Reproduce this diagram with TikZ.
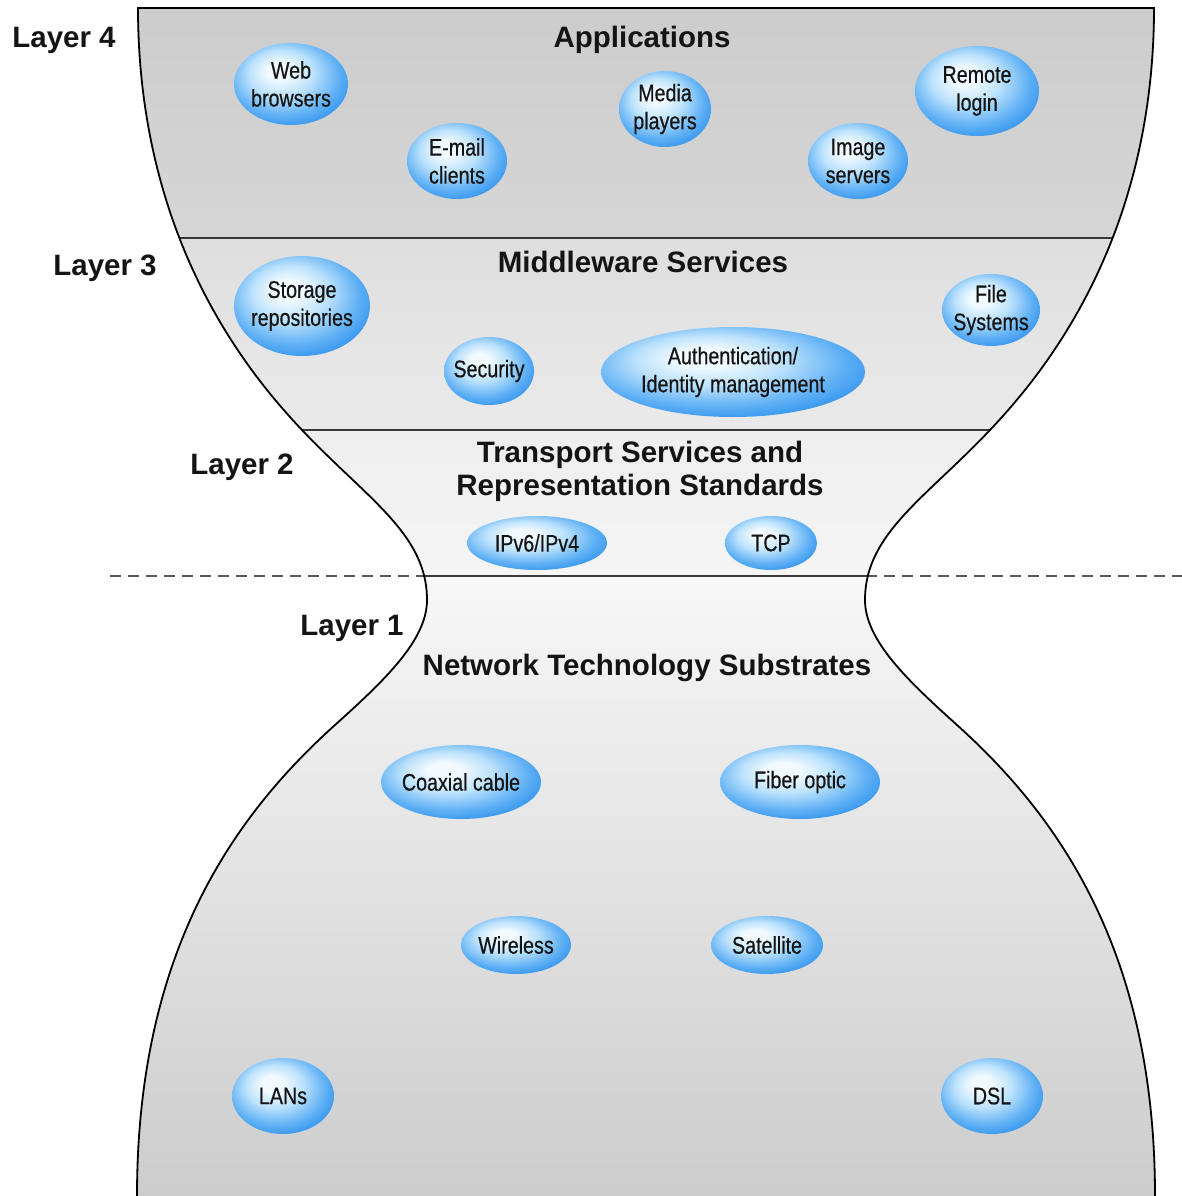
\documentclass[tikz,border=0pt]{standalone}
\usepackage{fontspec}
\setmainfont{Liberation Sans}
\newfontfamily\bubfont[FakeStretch=0.82,FakeBold=0.5]{Liberation Sans}
\usetikzlibrary{shapes.geometric}
\definecolor{bubHi}{RGB}{242,250,255}
\definecolor{bubA}{RGB}{188,226,252}
\definecolor{bubB}{RGB}{95,176,245}
\definecolor{bubC}{RGB}{36,138,234}
\definecolor{bubD}{RGB}{18,112,214}
\definecolor{inkc}{RGB}{20,20,20}
\pgfdeclareradialshading{bubble}{\pgfpoint{-6bp}{9bp}}{color(0bp)=(bubHi); color(5bp)=(bubHi); color(14bp)=(bubA); color(24bp)=(bubB); color(33bp)=(bubC); color(50bp)=(bubD)}
\newcommand\bub[6]{%
  \path[shading=bubble] (#2,#3) ellipse [x radius=#4, y radius=#5];
  \node[bubtext] (#1) at (#2,#3) {#6};}
\begin{document}
\begin{tikzpicture}[x=1pt,y=-1pt,
  bubtext/.style={font=\bubfont\fontsize{24}{28}\selectfont, align=center, text=inkc, inner sep=0pt},
  title/.style={font=\bfseries\fontsize{29.5}{33}\selectfont, align=center, text=inkc, inner sep=0pt},
  layerlbl/.style={font=\bfseries\fontsize{29.5}{33}\selectfont, text=inkc, inner sep=0pt},
  sepline/.style={draw=black!78, line width=2pt},
  dashline/.style={draw=black!65, line width=2.4pt, dash pattern=on 11pt off 7pt},
  outline/.style={draw=black, line width=1.8pt}]
\useasboundingbox (0,0) rectangle (1182,1196);
% dashed divider outside
\draw[dashline] (110,576) -- (1182,576);
% fills
\begin{scope}
  \clip (137,1196) .. controls (137,950) and (235,815) .. (335,725)
    .. controls (385,680) and (427,640) .. (427,600)
    .. controls (427,530) and (360,495) .. (290,417)
    .. controls (180,295) and (138,150) .. (138,8)
    -- (1154,8) .. controls (1154,150) and (1112,295) .. (1002,417)
    .. controls (932,495) and (865,530) .. (865,600)
    .. controls (865,640) and (907,680) .. (957,725)
    .. controls (1057,815) and (1155,950) .. (1155,1196) -- cycle;
  \shade[top color={rgb,255:red,204;green,204;blue,204}, bottom color={rgb,255:red,214;green,214;blue,214}] (0,0) rectangle (1182,238);
  \shade[top color={rgb,255:red,222;green,222;blue,222}, bottom color={rgb,255:red,234;green,234;blue,234}] (0,238) rectangle (1182,430);
  \shade[top color={rgb,255:red,238;green,238;blue,238}, bottom color={rgb,255:red,245;green,245;blue,245}] (0,430) rectangle (1182,576);
  \shade[top color={rgb,255:red,247;green,247;blue,247}, bottom color={rgb,255:red,204;green,204;blue,204}] (0,576) rectangle (1182,1200);
  \draw[sepline] (0,238) -- (1182,238);
  \draw[sepline] (0,430) -- (1182,430);
  \draw[sepline] (0,576) -- (1182,576);
\end{scope}
\draw[outline] (137,1196) .. controls (137,950) and (235,815) .. (335,725)
    .. controls (385,680) and (427,640) .. (427,600)
    .. controls (427,530) and (360,495) .. (290,417)
    .. controls (180,295) and (138,150) .. (138,8)
    -- (1154,8) .. controls (1154,150) and (1112,295) .. (1002,417)
    .. controls (932,495) and (865,530) .. (865,600)
    .. controls (865,640) and (907,680) .. (957,725)
    .. controls (1057,815) and (1155,950) .. (1155,1196);
% layer labels
\node[layerlbl] (l4) at (64,40) {Layer 4};
\node[layerlbl] (l3) at (105,268) {Layer 3};
\node[layerlbl] (l2) at (242,467) {Layer 2};
\node[layerlbl] (l1) at (352,628) {Layer 1};
% titles
\node[title] (tapp) at (642,40) {Applications};
\node[title] (tmid) at (643,262) {Middleware Services};
\node[title] (ttra) at (640,471) {Transport Services and\\Representation Standards};
\node[title] (tnet) at (647,668) {Network Technology Substrates};
% bubbles
\bub{web}{291}{84}{57}{41}{Web\\browsers}
\bub{email}{457}{161}{50}{38}{E-mail\\clients}
\bub{media}{665}{109}{46}{38}{Media\\players}
\bub{image}{858}{161}{50}{38}{Image\\servers}
\bub{remote}{977}{91}{62}{45}{Remote\\login}
\bub{storage}{302}{306}{68}{50}{Storage\\repositories}
\bub{security}{489}{371}{45}{34}{Security}
\bub{auth}{733}{372}{132}{45}{Authentication/\\Identity management}
\bub{files}{991}{310}{49}{36}{File\\Systems}
\bub{ipv}{537}{543}{70}{27}{IPv6/IPv4}
\bub{tcp}{771}{543}{46}{27}{TCP}
\bub{coax}{461}{782}{80}{37}{Coaxial cable}
\bub{fiber}{800}{782}{80}{37}{Fiber optic}
\bub{wireless}{516}{945}{55}{29}{Wireless}
\bub{satellite}{767}{945}{56}{29}{Satellite}
\bub{lans}{283}{1096}{51}{38}{LANs}
\bub{dsl}{992}{1096}{51}{38}{DSL}
\end{tikzpicture}
\end{document}
